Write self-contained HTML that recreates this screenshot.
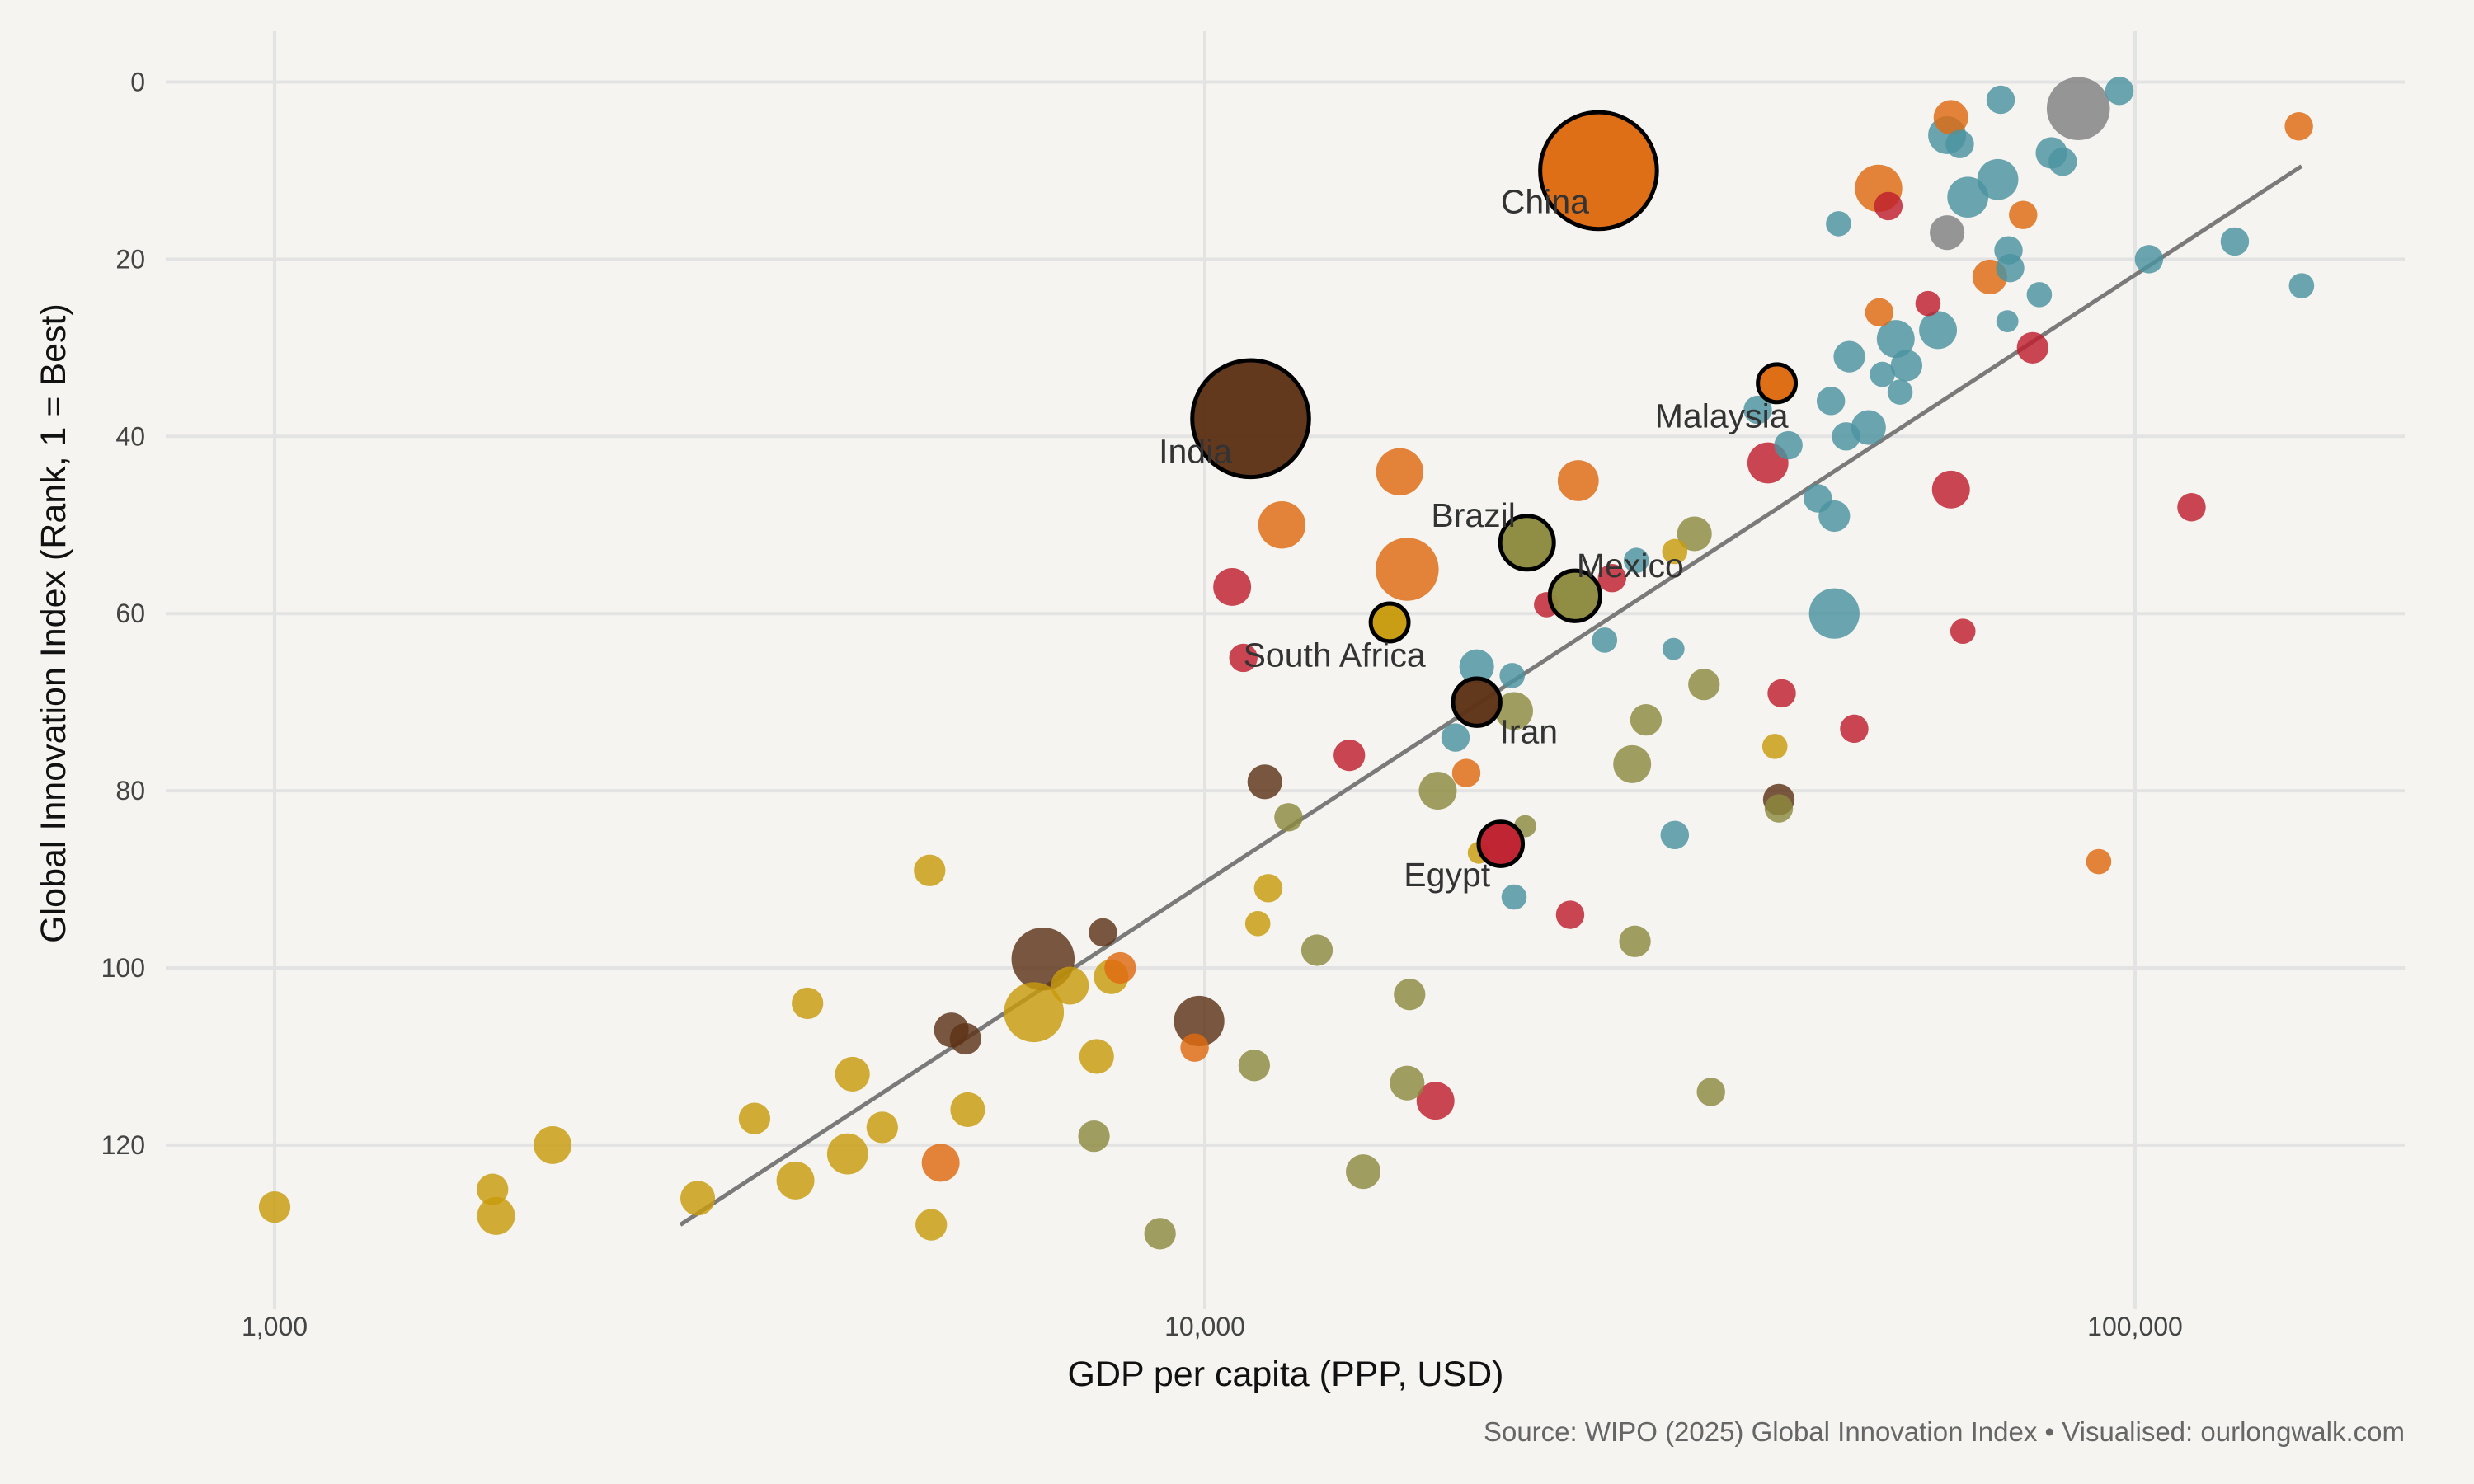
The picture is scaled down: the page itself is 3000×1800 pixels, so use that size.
<!DOCTYPE html>
<html><head><meta charset="utf-8"><style>
html,body{margin:0;padding:0;background:#F5F4F0}
svg{display:block}
text{font-family:"Liberation Sans",Arial,sans-serif}
</style></head><body>
<svg id="chart" width="3000" height="1800" viewBox="0 0 3000 1800" xmlns="http://www.w3.org/2000/svg">
<rect x="0" y="0" width="3000" height="1800" fill="#F5F4F0"/>
<g id="grid"></g>
<g id="ticks"></g>
<g id="trend"></g>
<g id="points"></g>
<g id="labels"></g>
<text x="0" y="0" transform="translate(79,756) rotate(-90)" text-anchor="middle" font-size="43" fill="#111">Global Innovation Index (Rank, 1 = Best)</text>
<text x="1559" y="1681" text-anchor="middle" font-size="43" fill="#111">GDP per capita (PPP, USD)</text>
<text x="2916" y="1748" text-anchor="end" font-size="33" fill="#666">Source: WIPO (2025) Global Innovation Index • Visualised: ourlongwalk.com</text>
</svg>
<script>
const xTicks = [1000, 10000, 100000];
const xTickLabels = ["1,000", "10,000", "100,000"];
const yTicks = [0, 20, 40, 60, 80, 100, 120];
const regionColors = {G:"#C89B0C",O:"#8C8A3E",B:"#5E3317",Or:"#DE6A10",R:"#BE1E2D",T:"#4A93A0",Gr:"#808080"};
const gdp = [1000,1715,1730,1990,2850,3280,3630,3740,4130,4180,4500,5060,5080,5560,6550,7160,7650,7930,11700,11400,19700,32000,41000,
7600,8950,11300,12300,13200,14800,16600,16500,17800,21500,22100,28800,29800,29000,33600,34400,35000,41400,
6700,7770,5340,5530,9860,11600,41400,
5200,8110,9750,12100,16200,16500,19100,25200,53000,53100,63400,69800,75800,91400,150000,
10700,11000,14300,17700,23300,24700,27400,40300,41700,49900,54300,59900,63400,65300,77600,115000,
18600,19600,21400,21500,26900,29100,31900,32000,39300,42400,45600,47100,47500,47500,48000,48900,49300,51700,53500,55300,55900,56800,61400,62800,64800,66100,71200,71700,73100,73400,72900,78900,81300,83600,96200,103500,128000,151000,
86900,62800,
15800,22200,25000,11200,19600,26500,41200,20800];
const rank = [127,125,128,120,126,117,124,104,121,112,118,89,129,116,105,102,110,101,91,95,87,53,75,
119,130,111,83,98,123,103,113,80,71,84,77,72,97,51,68,114,82,
99,96,107,108,106,79,81,
122,100,109,50,44,55,78,45,12,26,4,22,15,88,5,
57,65,76,115,59,94,56,43,69,73,14,25,46,62,30,48,
74,66,67,92,63,54,64,85,37,41,47,36,49,60,16,40,31,39,33,29,35,32,28,6,7,13,11,2,19,21,27,24,8,9,1,20,18,23,
3,17,
61,52,58,38,70,10,34,86];
const pop = [100,100,144,144,121,100,144,100,169,121,100,100,100,121,361,144,121,121,81,64,49,64,64,
100,100,100,81,100,121,100,121,144,144,49,144,100,100,121,100,81,81,
400,81,121,100,256,121,100,
144,100,81,225,225,400,81,169,225,81,121,121,81,64,81,
144,81,100,144,64,81,81,169,81,81,81,64,144,64,100,81,
81,121,64,64,64,64,49,81,81,81,81,81,100,256,64,81,100,121,64,144,64,100,144,144,81,169,169,81,81,81,49,64,100,81,81,81,81,64,
400,121,
144,289,256,1369,225,1369,144,196];
const region = ["G","G","G","G","G","G","G","G","G","G","G","G","G","G","G","G","G","G","G","G","G","G","G",
"O","O","O","O","O","O","O","O","O","O","O","O","O","O","O","O","O","O",
"B","B","B","B","B","B","B",
"Or","Or","Or","Or","Or","Or","Or","Or","Or","Or","Or","Or","Or","Or","Or",
"R","R","R","R","R","R","R","R","R","R","R","R","R","R","R","R",
"T","T","T","T","T","T","T","T","T","T","T","T","T","T","T","T","T","T","T","T","T","T","T","T","T","T","T","T","T","T","T","T","T","T","T","T","T","T",
"Gr","Gr",
"G","O","O","B","B","Or","Or","R"];
const labelNames = ["South Africa","Brazil","Mexico","India","Iran","China","Malaysia","Egypt"];
const labelIndex = [119,120,121,122,123,124,125,126];
const labelDx = [-35,-34,35,-35,33,-34,-35,-34];
const labelDy = [28,-10,-12,28,26,27,28,27];
const trendGdp = [2730, 151000];
const trendRank = [129, 9.5];

const NS = "http://www.w3.org/2000/svg";
const X = g => 333 + (Math.log10(g) - 3) * 1128;
const Y = r => 99.5 + r * 10.745;
const R = p => Math.sqrt(p) * 1.913;
const S = 1.913;
function mk(tag, attrs, parent){const e=document.createElementNS(NS,tag);for(const k in attrs)e.setAttribute(k,attrs[k]);parent.appendChild(e);return e;}

const grid=document.getElementById('grid'), ticks=document.getElementById('ticks');
yTicks.forEach(t=>{
  const l=mk('line',{x1:201,x2:2916,y1:Y(t),y2:Y(t),stroke:"#E3E3E3","stroke-width":4},grid);
  
  
  const tx=mk('text',{x:176,y:Y(t)+11,"text-anchor":"end","font-size":32,fill:"#444"},ticks);
  tx.textContent=t;
  
  
});
xTicks.forEach((t,i)=>{
  const l=mk('line',{x1:X(t),x2:X(t),y1:38,y2:1588,stroke:"#E3E3E3","stroke-width":4},grid);
  
  
  const tx=mk('text',{x:X(t),y:1620,"text-anchor":"middle","font-size":32,fill:"#444"},ticks);
  tx.textContent=xTickLabels[i];
  
  
});
const tl=mk('line',{x1:X(trendGdp[0]),y1:Y(trendRank[0]),x2:X(trendGdp[1]),y2:Y(trendRank[1]),stroke:"#7A7A7A","stroke-width":5},document.getElementById('trend'));



const pts=document.getElementById('points');
const hl=new Set(labelIndex);
const order=gdp.map((_,i)=>i).filter(i=>!hl.has(i)).sort((a,b)=>pop[b]-pop[a]).concat(labelIndex);
order.forEach(i=>{
  const isH=hl.has(i);
  const c=mk('circle',{cx:X(gdp[i]),cy:Y(rank[i]),r:R(pop[i]),fill:regionColors[region[i]],"fill-opacity":isH?0.97:0.82},pts);
  if(isH){c.setAttribute('stroke','#000');c.setAttribute('stroke-width',5);}
  
  
});
const lg=document.getElementById('labels');
labelNames.forEach((n,k)=>{
  const i=labelIndex[k];
  const t=mk('text',{x:X(gdp[i])+labelDx[k]*S,y:Y(rank[i])+labelDy[k]*S,"text-anchor":"middle","font-size":41,fill:"#333"},lg);
  t.textContent=n;
  
  
});
</script>
</body></html>
